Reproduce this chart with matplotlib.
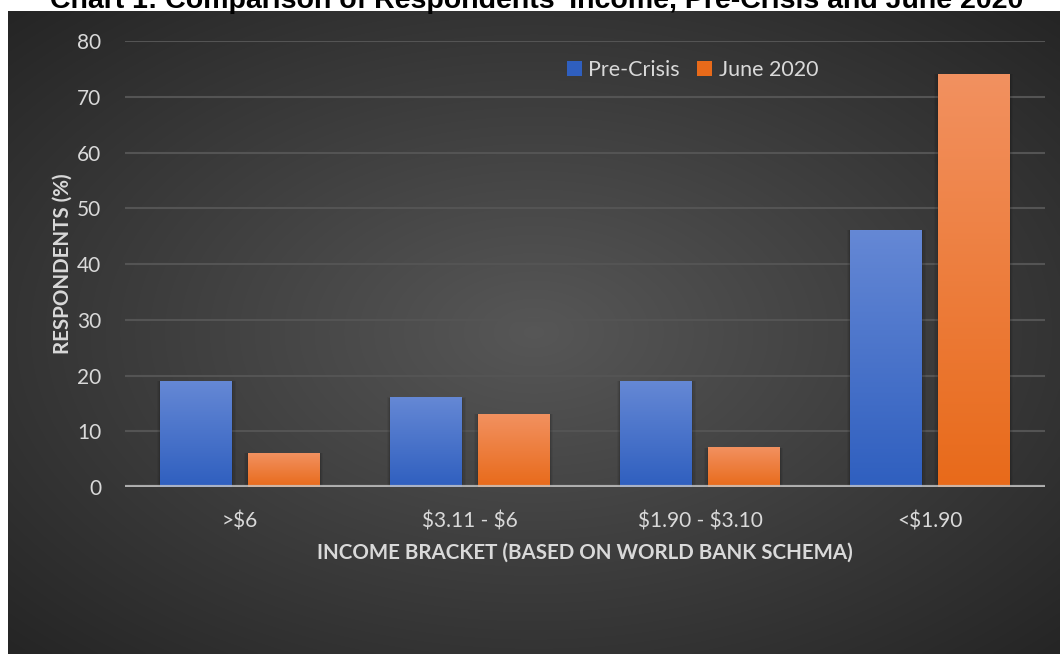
import numpy as np
import matplotlib

matplotlib.use("Agg")
import matplotlib.pyplot as plt
from matplotlib.colors import LinearSegmentedColormap
from matplotlib.patches import Patch

# Share of respondents per daily income bracket
brackets = [r">\$6", r"\$3.11 - \$6", r"\$1.90 - \$3.10", r"<\$1.90"]
pre_crisis = [19, 16, 19, 46]
june_2020 = [6, 13, 7, 74]
series_names = ["Pre-Crisis", "June 2020"]

TEXT = "#d9d9d9"
BLUE = ("#2f5fbf", "#6588d5")      # bottom, top
ORANGE = ("#e86a1a", "#f29160")

plt.rcParams["font.family"] = ["Lato", "DejaVu Sans"]

fig = plt.figure(figsize=(10.6, 6.54), dpi=100)
fig.patch.set_facecolor("white")

# Dark radial-gradient backdrop
bg = fig.add_axes([8 / 1060, 0, 1 - 8 / 1060, (654 - 11) / 654])
bg.set_axis_off()
yy, xx = np.mgrid[-1:1:300j, -1:1:500j]
r = np.sqrt(xx ** 2 + yy ** 2) / np.sqrt(2)
shade = 0.34 - 0.195 * r
bg.imshow(np.dstack([shade, shade, shade]), aspect="auto", extent=(0, 1, 0, 1),
          interpolation="bicubic")
bg.set_xlim(0, 1)
bg.set_ylim(0, 1)

ax = fig.add_axes([125 / 1060, 167 / 654, 920 / 1060, 446 / 654])
ax.patch.set_alpha(0)
for s in ax.spines.values():
    s.set_visible(False)

x = np.arange(len(brackets))
w = 0.313
off = 0.19

bars_pre = ax.bar(x - off, pre_crisis, w, color="none", zorder=3)
bars_jun = ax.bar(x + off, june_2020, w, color="none", zorder=3)


def fill_gradient(bars, colors):
    cmap = LinearSegmentedColormap.from_list("g", colors)
    grad = np.linspace(0, 1, 256).reshape(-1, 1)
    for b in bars:
        x0, y0 = b.get_x(), b.get_y()
        x1, y1 = x0 + b.get_width(), y0 + b.get_height()
        # soft shadow around the bar
        for k, a in [(0.016, 0.05), (0.010, 0.07), (0.005, 0.09)]:
            ax.add_patch(plt.Rectangle((x0 - k, y0), x1 - x0 + 2 * k, y1 - y0 + k * 5,
                                       facecolor="black", alpha=a, lw=0, zorder=2))
        ax.imshow(grad, cmap=cmap, origin="lower", aspect="auto",
                  extent=(x0, x1, y0, y1), zorder=3)


fill_gradient(bars_pre, BLUE)
fill_gradient(bars_jun, ORANGE)

ax.set_xlim(-0.5, len(brackets) - 0.5)
ax.set_ylim(0, 80)
ax.set_yticks(range(0, 81, 10))
ax.set_xticks(x)
ax.set_xticklabels(brackets)
ax.tick_params(axis="both", length=0, colors=TEXT, labelsize=15)
ax.tick_params(axis="y", pad=17)
ax.tick_params(axis="x", pad=18)
ax.yaxis.grid(True, color="#545454", lw=1.5, zorder=1)
ax.set_axisbelow(True)
ax.axhline(0, color="#c8c8c8", lw=3, alpha=0.8, zorder=4)

ax.set_xlabel("INCOME BRACKET (BASED ON WORLD BANK SCHEMA)", color=TEXT,
              fontsize=14.8, fontweight="bold", labelpad=8)
ax.set_ylabel("RESPONDENTS (%)", color=TEXT, fontsize=14.8, fontweight="bold",
              labelpad=3)

handles = [Patch(facecolor=BLUE[0], label=series_names[0]),
           Patch(facecolor=ORANGE[0], label=series_names[1])]
ax.legend(handles=handles, loc="center", bbox_to_anchor=(0.617, 0.934),
          ncol=2, frameon=False, fontsize=15.5, labelcolor=TEXT,
          handlelength=0.7, handleheight=0.7, handletextpad=0.3, columnspacing=0.8)

fig.text(537 / 1060, 1 - 8 / 654,
         "Chart 1: Comparison of Respondents' Income, Pre-Crisis and June 2020",
         ha="center", va="baseline", fontsize=20.5, fontweight="bold",
         family="Liberation Sans", color="black")

fig.savefig("out.png", dpi=100, facecolor=fig.get_facecolor())
